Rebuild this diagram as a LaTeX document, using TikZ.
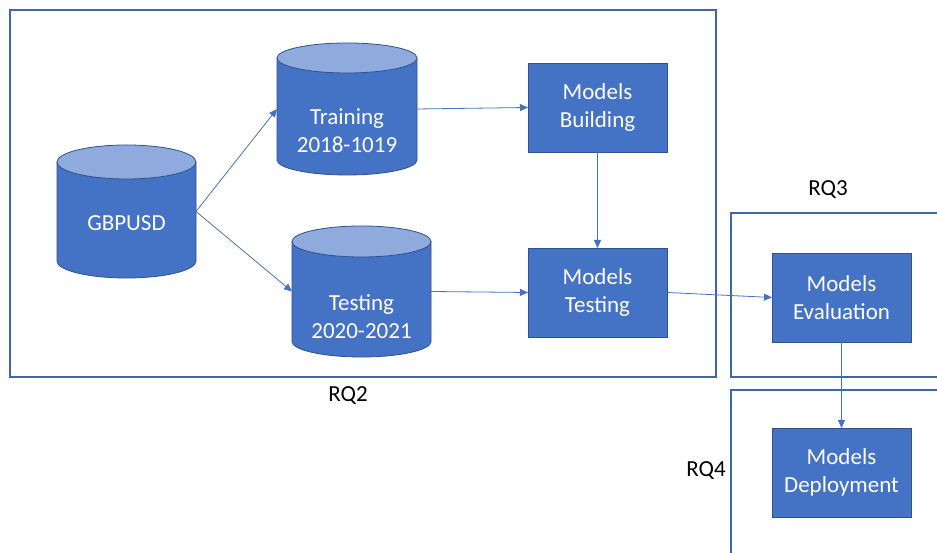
\documentclass[tikz,border=0pt]{standalone}
\usepackage{fontspec}
\setmainfont{Carlito}
\usetikzlibrary{arrows.meta}
\definecolor{cbody}{HTML}{4472C4}
\definecolor{ctop}{HTML}{8FAADC}
\definecolor{cedge}{HTML}{2F528F}
\definecolor{cframe}{HTML}{3F65AE}
\tikzset{
  every node/.style={font=\fontsize{23}{28}\selectfont, inner sep=0pt, outer sep=0pt},
  proc/.style={draw=cedge, line width=0.8pt, fill=cbody, text=white, minimum width=139pt, minimum height=89pt, align=center},
  anchorbox/.style={minimum width=#1, minimum height=100pt},
  ctext/.style={text=white, align=center},
  conn/.style={draw=cbody, line width=0.8pt, -{Triangle[width=7pt,length=8pt]}},
  frame/.style={draw=cframe, line width=1.3pt},
  cylbody/.style={fill=cbody, draw=cedge, line width=0.8pt},
  cyltop/.style={fill=ctop, draw=cedge, line width=0.8pt},
  rqlabel/.style={text=black}
}
\begin{document}
\begin{tikzpicture}[x=1pt,y=1pt]
\useasboundingbox (0,0) rectangle (937,553);
\clip (0,0) rectangle (937,553);
\fill[white] (0,0) rectangle (937,553);

% frames
\draw[frame] (10,176) rectangle (716,543);
\draw[frame] (950,340) -- (731,340) -- (731,176) -- (950,176);
\draw[frame] (950,163) -- (731,163) -- (731,-10);

% GBPUSD cylinder
\path[cylbody] (57,391) -- (57,292) arc[start angle=180, end angle=360, x radius=69.5, y radius=17] -- (196,391) -- cycle;
\path[cyltop] (126.5,391) ellipse[x radius=69.5, y radius=17];
\node[anchorbox=139pt] (gbp) at (126.5,341.5) {};
\node[ctext] (gbptxt) at (126.5,330) {GBPUSD};

% Training cylinder
\path[cylbody] (277,495) -- (277,393) arc[start angle=180, end angle=360, x radius=70, y radius=15] -- (417,495) -- cycle;
\path[cyltop] (347,495) ellipse[x radius=70, y radius=15];
\node[anchorbox=140pt] (train) at (347,444) {};
\node[ctext] (traintxt) at (347,422) {Training\\2018-1019};

% Testing cylinder
\path[cylbody] (292,311.5) -- (292,211.5) arc[start angle=180, end angle=360, x radius=69.5, y radius=15.5] -- (431,311.5) -- cycle;
\path[cyltop] (361.5,311.5) ellipse[x radius=69.5, y radius=15.5];
\node[anchorbox=139pt] (test) at (361.5,261.5) {};
\node[ctext] (testtxt) at (361.5,236) {Testing\\2020-2021};

% process boxes
\node[proc] (build) at (597.5,445.5) {Models\\Building};
\node[proc] (mtest) at (597.5,260.5) {Models\\Testing};
\node[proc] (eval) at (841.5,255.5) {Models\\Evaluation};
\node[proc] (deploy) at (841.5,80.5) {Models\\Deployment};

% labels
\node[rqlabel] (rq2) at (348,157) {RQ2};
\node[rqlabel] (rq3) at (828,363) {RQ3};
\node[rqlabel] (rq4) at (706,82) {RQ4};

% connectors
\draw[conn] (gbp.east) -- (train.west);
\draw[conn] (gbp.east) -- (test.west);
\draw[conn] (train.east) -- (build.west);
\draw[conn] (build.south) -- (mtest.north);
\draw[conn] (test.east) -- (mtest.west);
\draw[conn] (mtest.east) -- (eval.west);
\draw[conn] (eval.south) -- (deploy.north);
\end{tikzpicture}
\end{document}
